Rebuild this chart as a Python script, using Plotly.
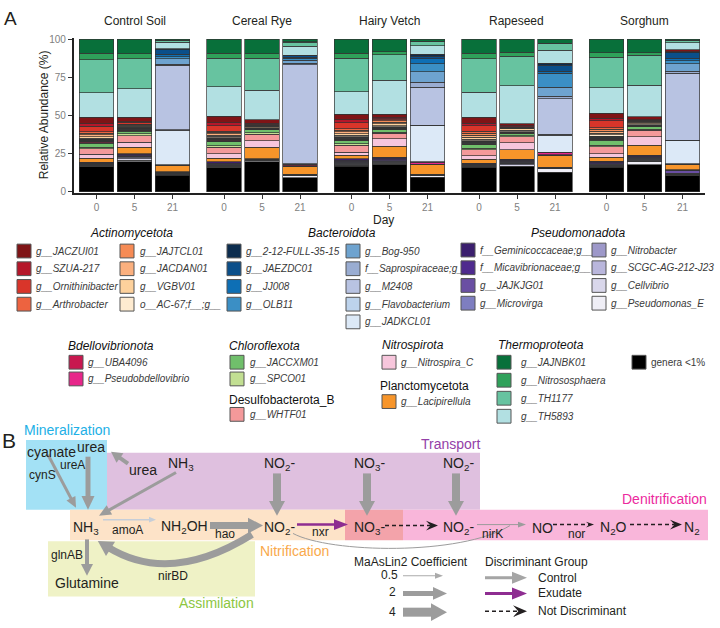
import math
import plotly.graph_objects as go

FONT = "Liberation Sans, Arial, Helvetica, sans-serif"
W, H = 720, 628

# ---------------- data ----------------
groups = ["Control Soil", "Cereal Rye", "Hairy Vetch", "Rapeseed", "Sorghum"]
days = ["0", "5", "21"]

# stacking order: bottom -> top
genera = [
    "genera <1%", "g__Pseudomonas_E", "g__Cellvibrio", "g__SCGC-AG-212-J23", "g__Nitrobacter",
    "g__Microvirga", "g__JAJKJG01", "f__Micavibrionaceae;g__", "f__Geminicoccaceae;g__",
    "g__Lacipirellula", "g__Nitrospira_C", "g__WHTF01", "g__SPCO01", "g__JACCXM01",
    "g__Pseudobdellovibrio", "g__UBA4096",
    "g__JADKCL01", "g__Flavobacterium", "g__M2408", "f__Saprospiraceae;g__", "g__Bog-950",
    "g__OLB11", "g__JJ008", "g__JAEZDC01", "g__2-12-FULL-35-15",
    "o__AC-67;f__;g__", "g__VGBV01", "g__JACDAN01", "g__JAJTCL01", "g__Arthrobacter",
    "g__Ornithinibacter", "g__SZUA-217", "g__JACZUI01",
    "g__TH5893", "g__TH1177", "g__Nitrososphaera", "g__JAJNBK01",
]

control_d0 = [16.8, 0.3, 0.3, 0.3, 0.3, 0.3, 0.3, 0.4, 0.6, 2.8, 2.5, 3.9, 0.8, 2.6, 0.4, 0.6,
              0.3, 0.2, 0.3, 0.2, 0.2, 0.2, 0.1, 0.1, 0.1, 0.8, 1.0, 1.2, 1.2, 1.0, 3.5, 1.5, 4.5,
              16.1, 22.0, 4.3, 9.2]
control_d5 = [20.5, 1.0, 0.8, 0.8, 0.5, 0.4, 0.5, 0.5, 0.8, 4.5, 3.3, 4.2, 1.5, 1.8, 0.3, 0.3,
              0.3, 0.2, 0.3, 0.2, 0.2, 0.2, 0.1, 0.1, 0.1, 0.3, 0.8, 0.5, 0.4, 0.3, 1.2, 0.6, 2.8,
              19.2, 20.5, 3.3, 9.6]
control_d21 = [11.0, 0.6, 0.3, 0.2, 0.2, 0.2, 0.4, 0.2, 0.3, 4.3, 0.1, 0.1, 0.1, 0.1, 0.1, 0.1,
               23.0, 0.3, 43.0, 0.6, 3.7, 1.5, 1.5, 3.0, 0.6, 0, 0, 0, 0, 0, 0, 0, 0.1,
               4.3, 1.0, 0.3, 0.6]
cereal_d0 = [16.0, 0.3, 0.3, 0.3, 0.4, 0.4, 0.5, 0.7, 1.0, 2.5, 2.8, 4.5, 1.0, 2.7, 0.3, 0.5,
             0.2, 0.2, 0.2, 0.2, 0.2, 0.2, 0.2, 0.2, 0.2, 0.7, 0.8, 1.0, 1.0, 0.8, 3.5, 2.0, 4.3,
             19.4, 19.0, 3.4, 9.0]
cereal_d5 = [20.4, 0.4, 0.3, 0.2, 0.2, 0.2, 0.2, 0.2, 0.3, 7.7, 4.2, 4.5, 1.0, 1.8, 0.2, 0.2,
             0.1, 0.1, 0.1, 0.1, 0.1, 0.1, 0.1, 0.1, 0.1, 0.3, 0.6, 0.4, 0.3, 0.2, 0.8, 0.5, 2.3,
             20.0, 21.5, 2.8, 9.7]
cereal_d21 = [9.5, 1.3, 0.2, 0.1, 0.1, 0.1, 0.2, 0.1, 0.2, 4.8, 0.1, 0.1, 0.1, 0.1, 0.2, 0.8,
              0.3, 0.2, 65.6, 1.0, 2.0, 1.2, 0.8, 0.8, 0.4, 0, 0, 0, 0, 0, 0, 0, 0,
              5.8, 2.8, 0.3, 1.5]
vetch_d0 = [16.5, 0.4, 0.4, 0.5, 0.6, 0.6, 0.7, 0.8, 0.9, 2.1, 2.1, 4.3, 1.0, 2.0, 0.3, 0.5,
            0.2, 0.2, 0.2, 0.2, 0.2, 0.2, 0.2, 0.2, 0.2, 0.8, 1.0, 1.2, 1.2, 1.0, 3.7, 2.0, 3.4,
            14.4, 21.7, 3.2, 8.8]
vetch_d5 = [18.3, 0.5, 0.5, 0.6, 0.6, 0.6, 0.6, 0.7, 0.8, 7.5, 5.0, 3.9, 0.7, 1.7, 0.2, 0.3,
            0.15, 0.15, 0.15, 0.15, 0.15, 0.15, 0.15, 0.15, 0.15, 0.8, 1.2, 1.0, 1.0, 0.6, 0.8, 0.5, 2.6,
            22.8, 17.0, 2.2, 8.2]
vetch_d21 = [9.7, 1.0, 0.2, 0.1, 0.1, 0.1, 0.2, 0.1, 0.2, 6.0, 0.2, 0.1, 0.1, 0.1, 1.3, 0.2,
             23.4, 0.3, 24.7, 3.4, 6.9, 5.2, 3.2, 1.8, 1.0, 0, 0, 0, 0, 0, 0, 0, 0.2,
             5.4, 2.6, 0.3, 1.3]
rape_d0 = [16.1, 0.2, 0.2, 0.2, 0.3, 0.3, 0.3, 0.4, 0.5, 2.8, 2.2, 3.9, 1.0, 2.2, 0.3, 0.5,
           0.2, 0.2, 0.2, 0.2, 0.2, 0.2, 0.2, 0.2, 0.2, 1.0, 1.2, 1.4, 1.4, 1.2, 3.4, 1.7, 3.9,
           16.3, 21.7, 3.7, 8.8]
rape_d5 = [16.0, 0.4, 1.1, 0.4, 0.5, 0.5, 0.6, 0.7, 0.8, 6.0, 4.3, 3.9, 0.7, 1.3, 0.2, 0.2,
           0.1, 0.1, 0.1, 0.1, 0.1, 0.1, 0.1, 0.1, 0.1, 0.7, 1.0, 0.4, 0.3, 0.2, 0.6, 0.4, 1.5,
           24.0, 19.0, 2.4, 8.2]
rape_d21 = [12.5, 2.2, 0.2, 0.1, 0.1, 0.1, 0.1, 0.1, 0.2, 7.5, 0.2, 0.1, 0.1, 0.1, 1.3, 0.3,
            10.8, 0.5, 22.4, 1.7, 5.6, 9.0, 1.3, 3.9, 0.8, 0, 0, 0, 0, 0, 0, 0, 0.2,
            8.2, 4.3, 0.3, 2.4]
sorg_d0 = [16.0, 0.3, 0.3, 0.4, 0.4, 0.5, 0.5, 0.6, 0.8, 2.6, 2.4, 4.5, 1.0, 3.2, 0.3, 0.4,
           0.2, 0.2, 0.2, 0.2, 0.2, 0.2, 0.2, 0.2, 0.2, 1.0, 1.0, 1.2, 1.2, 1.0, 4.5, 1.7, 3.2,
           16.6, 19.6, 3.0, 8.6]
sorg_d5 = [17.6, 1.7, 0.5, 0.6, 0.6, 0.6, 0.6, 0.6, 0.8, 6.5, 5.4, 4.3, 0.6, 1.4, 0.2, 0.2,
           0.1, 0.1, 0.1, 0.1, 0.1, 0.1, 0.1, 0.1, 0.1, 0.8, 1.0, 0.4, 0.3, 0.2, 0.4, 0.4, 1.7,
           20.4, 19.1, 1.9, 8.4]
sorg_d21 = [10.3, 0.5, 0.5, 0.2, 0.2, 0.3, 1.7, 0.2, 0.2, 3.4, 0.1, 0.1, 0.1, 0.1, 0.1, 0.1,
            14.6, 0.3, 43.0, 1.3, 4.7, 1.9, 1.7, 3.7, 0.6, 0, 0, 0, 0, 0, 0, 0, 1.3,
            4.3, 1.3, 0.3, 0.6]

samples = [control_d0, control_d5, control_d21, cereal_d0, cereal_d5, cereal_d21,
           vetch_d0, vetch_d5, vetch_d21, rape_d0, rape_d5, rape_d21,
           sorg_d0, sorg_d5, sorg_d21]

# ---------------- styles ----------------
colors = [
    "#000000", "#efeef6", "#d9d7eb", "#b9b6dc", "#9d98c9", "#7e7ec0", "#6a4fa3", "#4e2a8e", "#3b1f6e",
    "#f7952a", "#f7c6dc", "#f4999a", "#c2df92", "#70bf6b", "#e7268a", "#c8184f",
    "#dce9f7", "#bdd3ec", "#b8c3e2", "#9aadd2", "#6ea3cf", "#3b8fc5", "#0e6fb5", "#0b4f8a", "#0c2d4f",
    "#feebd0", "#fdd19c", "#fbb07e", "#f68b55", "#ed6340", "#d9352a", "#b5172a", "#7f1416",
    "#b2e0e2", "#67c3a0", "#2fa15a", "#08703a",
]

PITCH = 3.355
xpos = [g * PITCH + i + 1 for g in range(len(groups)) for i in range(len(days))]
XR = (0.4, 4 * PITCH + 3.6)
XPX = (73.7, 705.3)
YPX = (34, 191)

def xval_to_px(v):
    return XPX[0] + (v - XR[0]) / (XR[1] - XR[0]) * (XPX[1] - XPX[0])

def px(x):
    return x / W

def py(y):
    return 1 - y / H

fig = go.Figure()
for k, name in enumerate(genera):
    fig.add_trace(go.Bar(
        x=xpos, y=[s[k] for s in samples], name=name, width=0.9,
        marker=dict(color=colors[k], line=dict(color="#333333", width=0.7)),
        showlegend=False, hoverinfo="name+y",
    ))

annotations = []
shapes = []

def text(x, y, s, size=14, color="#231f20", xanchor="center", italic=False, angle=0):
    annotations.append(dict(
        x=px(x), y=py(y), xref="paper", yref="paper", showarrow=False,
        text=f"<i>{s}</i>" if italic else s, textangle=angle,
        font=dict(size=size, color=color, family=FONT),
        xanchor=xanchor, yanchor="middle", borderpad=0,
    ))

def rect(x0, y0, x1, y1, fill, line=None, lw=0):
    shapes.append(dict(type="rect", xref="paper", yref="paper",
                       x0=px(x0), x1=px(x1), y0=py(y1), y1=py(y0),
                       fillcolor=fill, line=dict(width=lw, color=line or fill)))

def P(x, y):
    return f"{px(x):.5f},{py(y):.5f}"

def poly(pts, color):
    d = "M " + " L ".join(P(x, y) for x, y in pts) + " Z"
    shapes.append(dict(type="path", xref="paper", yref="paper", path=d,
                       fillcolor=color, line=dict(width=0, color=color)))

def head(tx, ty, ux, uy, hl, hw, color, stealth=False):
    bx, by = tx - ux * hl, ty - uy * hl
    nx, ny = -uy, ux
    pts = [(tx, ty), (bx + nx * hw / 2, by + ny * hw / 2)]
    if stealth:
        pts.append((tx - ux * hl * 0.62, ty - uy * hl * 0.62))
    pts.append((bx - nx * hw / 2, by - ny * hw / 2))
    poly(pts, color)

def arrow(x0, y0, x1, y1, w, color, hl, hw, dash=None, stealth=False):
    dx, dy = x1 - x0, y1 - y0
    L = math.hypot(dx, dy)
    ux, uy = dx / L, dy / L
    back = hl * 0.6 if stealth else hl - 1
    ex, ey = x1 - ux * back, y1 - uy * back
    ln = dict(width=w, color=color)
    if dash:
        ln["dash"] = dash
    shapes.append(dict(type="line", xref="paper", yref="paper",
                       x0=px(x0), y0=py(y0), x1=px(ex), y1=py(ey), line=ln))
    head(x1, y1, ux, uy, hl, hw, color, stealth)

# ---------------- panel A texts ----------------
text(10, 14, "A", 19)
for g, name in enumerate(groups):
    text(xval_to_px(g * PITCH + 2), 16, name, 12)
text(44, 112, "Relative Abundance (%)", 12, angle=-90)
text(383, 218, "Day", 12)

# ---------------- manual legend ----------------
SW = 14
def entry(sx, lx, y, k, italic=True):
    rect(sx, y - SW / 2, sx + SW, y + SW / 2, colors[k], "#555555", 1)
    text(lx, y, genera[k], 10, "#3a3a3a", "left", italic)

idx = {n: i for i, n in enumerate(genera)}
text(89, 232, "Actinomycetota", 12, "#111111", "left", True)
for r, n in enumerate(["g__JACZUI01", "g__SZUA-217", "g__Ornithinibacter", "g__Arthrobacter"]):
    entry(17, 35, 250 + 18 * r, idx[n])
for r, n in enumerate(["g__JAJTCL01", "g__JACDAN01", "g__VGBV01", "o__AC-67;f__;g__"]):
    entry(120, 139, 250 + 18 * r, idx[n])
text(307, 232, "Bacteroidota", 12, "#111111", "left", True)
for r, n in enumerate(["g__2-12-FULL-35-15", "g__JAEZDC01", "g__JJ008", "g__OLB11"]):
    entry(227, 245, 250 + 18 * r, idx[n])
for r, n in enumerate(["g__Bog-950", "f__Saprospiraceae;g__", "g__M2408", "g__Flavobacterium", "g__JADKCL01"]):
    entry(346, 364, 250 + 18 * r, idx[n])
text(530, 232, "Pseudomonadota", 12, "#111111", "left", True)
for r, n in enumerate(["f__Geminicoccaceae;g__", "f__Micavibrionaceae;g__", "g__JAJKJG01", "g__Microvirga"]):
    entry(461, 479, 249 + 18 * r, idx[n])
for r, n in enumerate(["g__Nitrobacter", "g__SCGC-AG-212-J23", "g__Cellvibrio", "g__Pseudomonas_E"]):
    entry(592, 610, 249 + 18 * r, idx[n])

text(67, 347, "Bdellovibrionota", 12, "#111111", "left", True)
for r, n in enumerate(["g__UBA4096", "g__Pseudobdellovibrio"]):
    entry(69, 87, 363 + 17 * r, idx[n])
text(228, 347, "Chloroflexota", 12, "#111111", "left", True)
for r, n in enumerate(["g__JACCXM01", "g__SPCO01"]):
    entry(230, 249, 363 + 17 * r, idx[n])
text(228, 401, "Desulfobacterota_B", 12, "#111111", "left", False)
entry(230, 249, 416, idx["g__WHTF01"])
text(381, 346, "Nitrospirota", 12, "#111111", "left", True)
entry(382, 400, 363, idx["g__Nitrospira_C"])
text(379, 387, "Planctomycetota", 12, "#111111", "left", False)
entry(382, 400, 403, idx["g__Lacipirellula"])
text(497, 346, "Thermoproteota", 12, "#111111", "left", True)
for r, n in enumerate(["g__JAJNBK01", "g__Nitrososphaera", "g__TH1177", "g__TH5893"]):
    entry(497, 520, 363 + 18.3 * r, idx[n])
entry(632, 650, 363, idx["genera <1%"], italic=False)

# ---------------- panel B diagram ----------------
rect(26, 442, 107, 513, "#a3e1f5")
rect(107, 455, 480, 513, "#dfc0df")
rect(70, 513, 345, 544, "#fde3c8")
rect(345, 513, 403, 544, "#f3a3aa")
rect(403, 513, 708, 544, "#f9b6da")
rect(48, 545, 255, 601, "#eff2c6")

GREY = "#9c9c9c"
LIGHT = "#c6ced8"
PURPLE = "#8e2d91"
BLACK = "#231f20"
DASH = "4px,3px"

arrow(48, 457, 76, 511, 3, GREY, 11, 10)
arrow(88, 459, 88, 513, 5, GREY, 14, 13)
arrow(128, 466, 111, 454, 4, GREY, 11, 12)
arrow(176, 475, 99, 519, 3, GREY, 12, 11)
arrow(277, 476, 277, 519, 8, GREY, 15, 16)
arrow(367, 476, 367, 519, 8, GREY, 15, 16)
arrow(456, 476, 456, 519, 8, GREY, 15, 16)
arrow(103, 523, 156, 523, 1.5, LIGHT, 7, 6)
arrow(210, 529, 263, 529, 7, GREY, 15, 16)
arrow(297, 528, 348, 528, 2.5, PURPLE, 14, 11)
arrow(385, 529, 438, 529, 1.5, BLACK, 12, 10, DASH, True)
arrow(477, 528, 526, 528, 1, GREY, 8, 6)
arrow(553, 528, 594, 528, 1.5, BLACK, 8, 6, DASH, True)
arrow(630, 528, 682, 528, 1.5, BLACK, 12, 10, DASH, True)
arrow(87, 543, 87, 580, 4, GREY, 12, 12)

# nirBD curved thick arrow
shapes.append(dict(type="path", xref="paper", yref="paper",
                   path=f"M {P(252, 538)} Q {P(170, 590)} {P(108, 551)}",
                   fillcolor="rgba(0,0,0,0)", line=dict(width=7, color=GREY)))
dxn, dyn = 108 - 170, 551 - 590
ln = math.hypot(dxn, dyn)
head(108 + dxn / ln * 12, 551 + dyn / ln * 12, dxn / ln, dyn / ln, 15, 17, GREY)
# thin NO2- -> nirK curve
shapes.append(dict(type="path", xref="paper", yref="paper",
                   path=f"M {P(293, 537)} C {P(330, 557)} {P(460, 560)} {P(510, 529)}",
                   fillcolor="rgba(0,0,0,0)", line=dict(width=1, color=GREY)))

text(9, 443, "B", 21)
text(67, 432, "Mineralization", 14, "#22b0e6")
text(451, 446, "Transport", 14, "#9440a8")
text(708, 502, "Denitrification", 14, "#ec2a9e", "right")
text(294, 555, "Nitrification", 14, "#f9a94b")
text(255, 608, "Assimilation", 14, "#8dc63f", "right")

text(51, 454, "cyanate", 14)
text(91, 449, "urea", 14)
text(72, 467, "ureA", 12)
text(42, 478, "cynS", 12)
text(143, 473, "urea", 14)
text(181, 466, "NH<sub>3</sub>", 14)
text(279, 466, "NO<sub>2</sub>-", 14)
text(370, 466, "NO<sub>3</sub>-", 14)
text(459, 466, "NO<sub>2</sub>-", 14)

text(86, 531, "NH<sub>3</sub>", 14)
text(127, 533, "amoA", 12)
text(184, 530, "NH<sub>2</sub>OH", 14)
text(225, 538, "hao", 12)
text(279, 531, "NO<sub>2</sub>-", 14)
text(320, 536, "nxr", 12)
text(370, 531, "NO<sub>3</sub>-", 14)
text(459, 531, "NO<sub>2</sub>-", 14)
text(492, 538, "nirK", 12)
text(542, 531, "NO", 14)
text(576, 538, "nor", 12)
text(613, 531, "N<sub>2</sub>O", 14)
text(692, 531, "N<sub>2</sub>", 14)
text(67, 559, "glnAB", 12)
text(87, 587, "Glutamine", 14)
text(173, 580, "nirBD", 12)

text(411, 566, "MaAsLin2 Coefficient", 12)
text(389, 579, "0.5", 12)
text(393, 597, "2", 12)
text(393, 617, "4", 12)
arrow(403, 580, 443, 580, 1, "#aaaaaa", 8, 6)
arrow(403, 598, 447, 598, 5, GREY, 14, 13)
arrow(403, 617, 447, 617, 9, GREY, 16, 18)
text(536, 566, "Discriminant Group", 12)
arrow(485, 582, 527, 582, 3, "#a5a5a5", 15, 12)
arrow(485, 598, 527, 598, 3, PURPLE, 15, 12)
arrow(485, 616, 527, 616, 1.5, BLACK, 14, 12, DASH, True)
text(537, 582, "Control", 12, xanchor="left")
text(537, 598, "Exudate", 12, xanchor="left")
text(537, 616, "Not Discriminant", 12, xanchor="left")

# ---------------- layout ----------------
fig.update_layout(
    width=W, height=H, margin=dict(l=0, r=0, t=0, b=0),
    paper_bgcolor="white", plot_bgcolor="white",
    barmode="stack", barnorm="percent", showlegend=False,
    font=dict(family=FONT),
    xaxis=dict(domain=[XPX[0] / W, XPX[1] / W], range=list(XR),
               tickvals=xpos, ticktext=days * len(groups),
               showline=True, linecolor="#222222", linewidth=1.5,
               ticks="outside", ticklen=4, tickcolor="#333333", tickwidth=1,
               tickfont=dict(size=10, color="#808080", family=FONT),
               showgrid=False, zeroline=False, fixedrange=True),
    yaxis=dict(domain=[1 - YPX[1] / H, 1 - YPX[0] / H], range=[-0.65, 100.65],
               tickvals=[0, 25, 50, 75, 100],
               showline=True, linecolor="#222222", linewidth=1.5,
               ticks="outside", ticklen=4, tickcolor="#333333", tickwidth=1,
               tickfont=dict(size=10, color="#808080", family=FONT),
               showgrid=False, zeroline=False, fixedrange=True),
    annotations=annotations, shapes=shapes,
)

fig.write_html("out.html", config={"displayModeBar": False},
               post_script="document.body.style.margin='0px';")
